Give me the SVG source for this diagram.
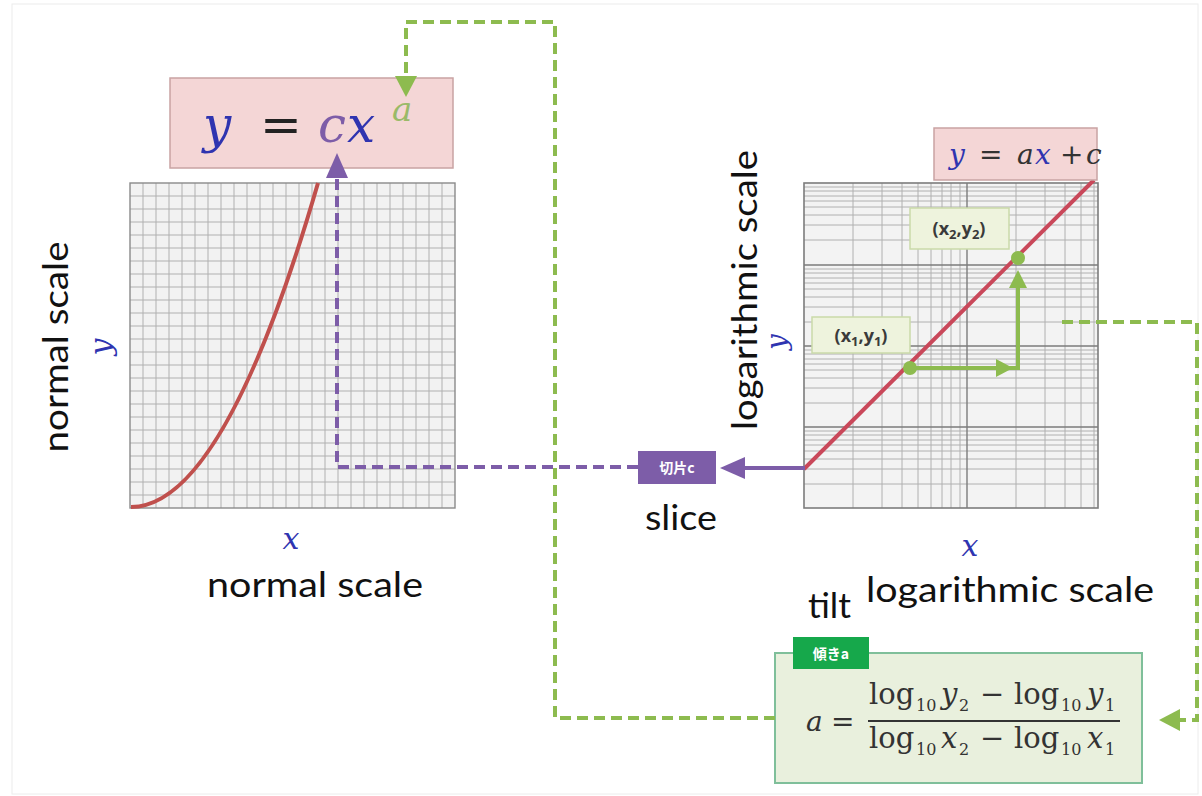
<svg xmlns="http://www.w3.org/2000/svg" width="1202" height="796" viewBox="0 0 1202 796">
<style>
.lbl{font-family:Lato,"Open Sans","Liberation Sans",sans-serif;font-size:34px;fill:#111}
.math{font-family:"DejaVu Serif","Liberation Serif",serif}
.it{font-style:italic}
.blue{fill:#2f34b0}
.minor{stroke:#b0b0b0;stroke-width:1;fill:none}
.major{stroke:#7c7c7c;stroke-width:1.4;fill:none}
.gdash{stroke:#8dbb4f;stroke-width:4;fill:none;stroke-dasharray:11 6}
.pdash{stroke:#7d5da8;stroke-width:4;fill:none;stroke-dasharray:11 6}
.pt{font-family:"Open Sans","Liberation Sans",sans-serif;font-weight:bold;font-size:18px;fill:#3a3a3a}
.tag{font-family:"Noto Sans CJK JP","Noto Sans CJK SC",sans-serif;font-weight:bold;font-size:14px;fill:#fff}
</style>
<defs>
<marker id="ga" viewBox="0 0 22 22" refX="0" refY="11" markerWidth="22" markerHeight="22" markerUnits="userSpaceOnUse" orient="auto"><path d="M0,0L21,11L0,22z" fill="#8dbb4f"/></marker>
<marker id="pa" viewBox="0 0 25 22" refX="0" refY="11" markerWidth="25" markerHeight="22" markerUnits="userSpaceOnUse" orient="auto"><path d="M0,0L25,11L0,22z" fill="#7d5da8"/></marker>
</defs>
<rect x="0" y="0" width="1202" height="796" fill="#fff"/>
<rect x="12" y="4" width="1186" height="790" fill="none" stroke="#ececec" stroke-width="1"/>

<g id="plot-normal">
<rect x="130" y="183" width="325" height="325" fill="#f2f2f2"/>
<path class="minor" d="M143,183V508M156,183V508M169,183V508M182,183V508M195,183V508M208,183V508M221,183V508M234,183V508M247,183V508M260,183V508M273,183V508M286,183V508M299,183V508M312,183V508M325,183V508M338,183V508M351,183V508M364,183V508M377,183V508M390,183V508M403,183V508M416,183V508M429,183V508M442,183V508M130,196H455M130,209H455M130,222H455M130,235H455M130,248H455M130,261H455M130,274H455M130,287H455M130,300H455M130,313H455M130,326H455M130,339H455M130,352H455M130,365H455M130,378H455M130,391H455M130,404H455M130,417H455M130,430H455M130,443H455M130,456H455M130,469H455M130,482H455M130,495H455"/>
<rect x="130" y="183" width="325" height="325" fill="none" stroke="#8a8a8a" stroke-width="1.4"/>
<path d="M131,507Q224,507 318,183" fill="none" stroke="#c0504d" stroke-width="4"/>
</g>

<g id="formula-power">
<rect x="170" y="78" width="283" height="90" fill="#f4d6d6" stroke="#c9a3a3" stroke-width="1.5"/>
<text class="math" font-size="50" y="142"><tspan x="203" class="it blue">y</tspan><tspan x="260" fill="#222">=</tspan><tspan x="318" class="it" fill="#7d5da8">c</tspan><tspan x="347" class="it blue">x</tspan><tspan x="392" y="121" font-size="34" class="it" fill="#9aba68">a</tspan></text>
</g>

<g id="plot-log">
<rect x="804" y="183" width="294" height="325" fill="#f3f3f3"/>
<path class="minor" d="M853,183V508M882,183V508M902,183V508M918,183V508M931,183V508M942,183V508M951,183V508M960,183V508M1016,183V508M1045,183V508M1065,183V508M1081,183V508M1094,183V508M804,187H1098M804,191H1098M804,196H1098M804,201H1098M804,207H1098M804,215H1098M804,225H1098M804,240H1098M804,269H1098M804,273H1098M804,278H1098M804,283H1098M804,289H1098M804,297H1098M804,307H1098M804,322H1098M804,350H1098M804,354H1098M804,359H1098M804,364H1098M804,370H1098M804,378H1098M804,388H1098M804,403H1098M804,431H1098M804,435H1098M804,440H1098M804,445H1098M804,451H1098M804,459H1098M804,469H1098M804,484H1098"/>
<path class="major" d="M967,183V508M804,265H1098M804,346H1098M804,427H1098"/>
<rect x="804" y="183" width="294" height="325" fill="none" stroke="#7c7c7c" stroke-width="1.6"/>
<path d="M804,469L1094,180" stroke="#c9485a" stroke-width="4" fill="none"/>
<path d="M912,368H1018V285" stroke="#8dbb4f" stroke-width="4" fill="none"/>
<polygon points="996,359 1013,368 996,377" fill="#8dbb4f"/>
<polygon points="1009,288 1018,270 1027,288" fill="#8dbb4f"/>
<circle cx="910" cy="368" r="7" fill="#8dbb4f"/>
<circle cx="1018" cy="258" r="7" fill="#8dbb4f"/>
</g>

<g id="point-2">
<rect x="910" y="208" width="99" height="41" fill="#eef3dd" stroke="#cadaa9" stroke-width="1.5"/>
<text class="pt" x="959" y="235" text-anchor="middle">(x<tspan font-size="13" dy="4">2</tspan><tspan dy="-4">,y</tspan><tspan font-size="13" dy="4">2</tspan><tspan dy="-4">)</tspan></text>
</g>
<g id="point-1">
<rect x="812" y="317" width="98" height="36" fill="#eef3dd" stroke="#cadaa9" stroke-width="1.5"/>
<text class="pt" x="861" y="342" text-anchor="middle">(x<tspan font-size="13" dy="4">1</tspan><tspan dy="-4">,y</tspan><tspan font-size="13" dy="4">1</tspan><tspan dy="-4">)</tspan></text>
</g>

<g id="formula-linear">
<rect x="934" y="128" width="163" height="52" fill="#f4d6d6" stroke="#c9a3a3" stroke-width="1.5"/>
<text class="math" font-size="28" y="164"><tspan x="949" class="it blue">y</tspan><tspan x="979" fill="#333">=</tspan><tspan x="1017" class="it" fill="#333">a</tspan><tspan x="1035" class="it blue">x</tspan><tspan x="1060" fill="#333">+</tspan><tspan x="1086" class="it" fill="#333">c</tspan></text>
</g>

<g id="slice-tag">
<rect x="638" y="451" width="78" height="33" fill="#7d5da8"/>
<text class="tag" x="677" y="473" text-anchor="middle">切片c</text>
</g>

<g id="tilt-box">
<rect x="775" y="653" width="367" height="130" fill="#e9f0dd" stroke="#7fbf9a" stroke-width="2"/>
<rect x="793" y="637" width="76" height="32" fill="#16a84b"/>
<text class="tag" x="831" y="659" text-anchor="middle">傾きa</text>
<text class="math" font-size="28" fill="#333"><tspan x="806" y="731" class="it">a</tspan><tspan x="831" y="731">=</tspan></text>
<text class="math" font-size="29" fill="#333" y="704"><tspan x="869">log</tspan><tspan x="916" y="711" font-size="16">10</tspan><tspan x="941" y="704" class="it">y</tspan><tspan x="959" y="711" font-size="16">2</tspan><tspan x="980" y="704">−</tspan><tspan x="1014" y="704">log</tspan><tspan x="1061" y="711" font-size="16">10</tspan><tspan x="1087" y="704" class="it">y</tspan><tspan x="1105" y="711" font-size="16">1</tspan></text>
<line x1="868" y1="721" x2="1120" y2="721" stroke="#333" stroke-width="2"/>
<text class="math" font-size="29" fill="#333" y="748"><tspan x="869">log</tspan><tspan x="916" y="755" font-size="16">10</tspan><tspan x="941" y="748" class="it">x</tspan><tspan x="959" y="755" font-size="16">2</tspan><tspan x="980" y="748">−</tspan><tspan x="1014" y="748">log</tspan><tspan x="1061" y="755" font-size="16">10</tspan><tspan x="1087" y="748" class="it">x</tspan><tspan x="1105" y="755" font-size="16">1</tspan></text>
</g>

<g id="labels">
<text class="lbl" transform="translate(68,347) rotate(-90)" text-anchor="middle" textLength="211" lengthAdjust="spacingAndGlyphs">normal scale</text>
<text class="math it blue" font-size="30" transform="translate(111,347) rotate(-90)" text-anchor="middle">y</text>
<text class="math it blue" font-size="30" x="291" y="549" text-anchor="middle">x</text>
<text class="lbl" x="207" y="597" textLength="216" lengthAdjust="spacingAndGlyphs">normal scale</text>
<text class="lbl" transform="translate(757,290) rotate(-90)" text-anchor="middle" textLength="280" lengthAdjust="spacingAndGlyphs">logarithmic scale</text>
<text class="math it blue" font-size="28" transform="translate(786,342) rotate(-90)" text-anchor="middle">y</text>
<text class="math it blue" font-size="30" x="970" y="556" text-anchor="middle">x</text>
<text class="lbl" x="645" y="530" textLength="72" lengthAdjust="spacingAndGlyphs">slice</text>
<text class="lbl" x="866" y="602" textLength="288" lengthAdjust="spacingAndGlyphs">logarithmic scale</text>
<text class="lbl" x="808" y="618" textLength="43" lengthAdjust="spacingAndGlyphs">tilt</text>
</g>

<g id="connectors">
<path class="gdash" d="M775,718H555V22H406V76" marker-end="url(#ga)"/>
<path class="gdash" d="M1062,322H1197V720H1180" marker-end="url(#ga)"/>
<path class="pdash" d="M638,467H337V178" marker-end="url(#pa)"/>
<path d="M805,468H745" stroke="#7d5da8" stroke-width="4" fill="none" marker-end="url(#pa)"/>
</g>
</svg>
